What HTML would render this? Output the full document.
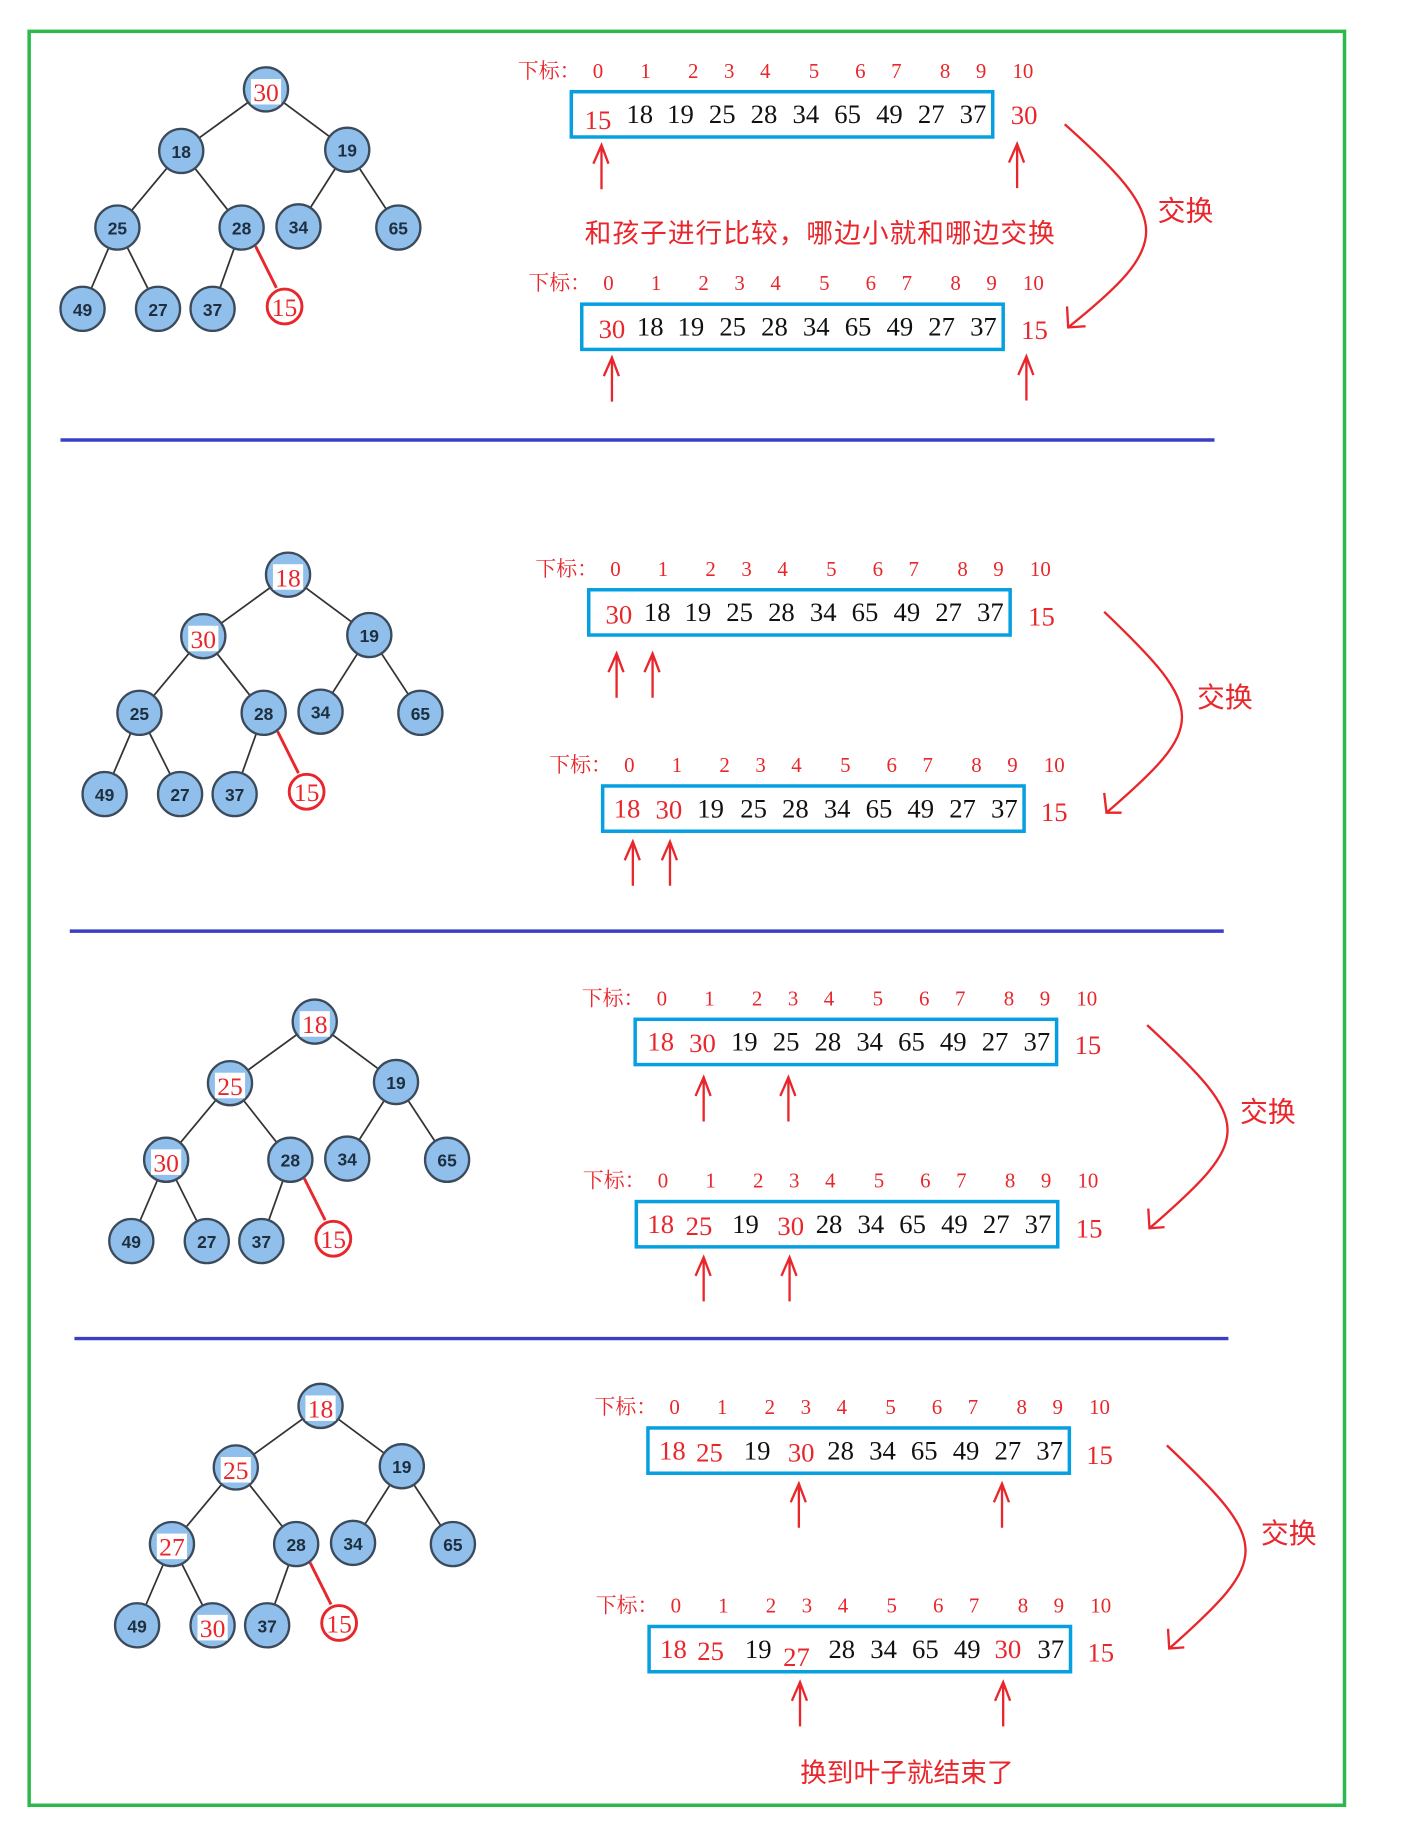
<!DOCTYPE html>
<html><head><meta charset="utf-8"><style>
html,body{margin:0;padding:0;background:#fff;}
svg{display:block;}
.idx{font-family:"Liberation Serif","Noto Serif CJK SC",serif;font-size:18px;fill:#e8262b;text-anchor:middle;}
.lab{font-family:"Liberation Serif","Noto Serif CJK SC",serif;font-size:18px;fill:#e8262b;}
.n{font-family:"Liberation Serif",serif;font-size:23px;fill:#111;text-anchor:middle;}
.r{font-family:"Liberation Serif",serif;font-size:23px;fill:#e8262b;text-anchor:middle;}
.cn{font-family:"Liberation Sans","Noto Sans CJK SC",sans-serif;font-size:23px;fill:#e8262b;}
.cx{font-family:"Liberation Sans","Noto Sans CJK SC",sans-serif;font-size:24px;fill:#e8262b;}
.box{fill:none;stroke:#069fe0;stroke-width:3;}
.nd{fill:#8fbfea;stroke:#3b4b5b;stroke-width:2;}
.nt{font-family:"Liberation Sans",sans-serif;font-weight:bold;font-size:15px;fill:#1e2f40;text-anchor:middle;}
.nr{font-family:"Liberation Serif",serif;font-size:22px;fill:#e8262b;text-anchor:middle;}
.e{stroke:#333;stroke-width:1.5;}
.ar{stroke:#e8262b;stroke-width:2;fill:none;}
</style></head><body>
<svg width="1405" height="1825" viewBox="0 0 1210 1572" xmlns="http://www.w3.org/2000/svg">
<rect x="25" y="27" width="1133" height="1528" fill="none" stroke="#2db84d" stroke-width="3"/>
<line x1="52" y1="379" x2="1046" y2="379" stroke="#3a3fc4" stroke-width="3"/>
<line x1="60" y1="802" x2="1054" y2="802" stroke="#3a3fc4" stroke-width="3"/>
<line x1="64" y1="1153" x2="1058" y2="1153" stroke="#3a3fc4" stroke-width="3"/>

<defs>
<g id="tree">
<line class="e" x1="229" y1="77" x2="156" y2="130"/><line class="e" x1="229" y1="77" x2="299" y2="129"/>
<line class="e" x1="156" y1="130" x2="101" y2="196"/><line class="e" x1="156" y1="130" x2="208" y2="196"/>
<line class="e" x1="299" y1="129" x2="257" y2="195"/><line class="e" x1="299" y1="129" x2="343" y2="196"/>
<line class="e" x1="101" y1="196" x2="71" y2="266"/><line class="e" x1="101" y1="196" x2="136" y2="266"/>
<line class="e" x1="208" y1="196" x2="183" y2="266"/>
<line x1="220" y1="212" x2="238" y2="248" stroke="#e8262b" stroke-width="2.5"/>
<circle class="nd" cx="229" cy="77" r="19"/><circle class="nd" cx="156" cy="130" r="19"/><circle class="nd" cx="299" cy="129" r="19"/>
<circle class="nd" cx="101" cy="196" r="19"/><circle class="nd" cx="208" cy="196" r="19"/><circle class="nd" cx="257" cy="195" r="19"/><circle class="nd" cx="343" cy="196" r="19"/>
<circle class="nd" cx="71" cy="266" r="19"/><circle class="nd" cx="136" cy="266" r="19"/><circle class="nd" cx="183" cy="266" r="19"/>
<circle cx="245" cy="264" r="15" fill="none" stroke="#e8262b" stroke-width="2.5"/>
<text class="nr" x="245" y="272">15</text>
<text class="nt" x="299" y="135">19</text><text class="nt" x="208" y="202">28</text><text class="nt" x="257" y="201">34</text><text class="nt" x="343" y="202">65</text>
<text class="nt" x="71" y="272">49</text><text class="nt" x="183" y="272">37</text>
</g>
<g id="arr">
<text class="lab" x="0" y="0">下标：</text>
<text class="idx" x="69" y="0">0</text><text class="idx" x="110" y="0">1</text><text class="idx" x="151" y="0">2</text><text class="idx" x="182" y="0">3</text><text class="idx" x="213" y="0">4</text><text class="idx" x="255" y="0">5</text><text class="idx" x="295" y="0">6</text><text class="idx" x="326" y="0">7</text><text class="idx" x="368" y="0">8</text><text class="idx" x="399" y="0">9</text><text class="idx" x="435" y="0">10</text>
<rect class="box" x="46" y="12" width="363" height="39"/>
<text class="n" x="212" y="39">28</text><text class="n" x="248" y="39">34</text><text class="n" x="284" y="39">65</text><text class="n" x="320" y="39">49</text><text class="n" x="392" y="39">37</text>
</g>
<g id="up"><path class="ar" d="M0,0 L0,-37 M-7,-22 L0,-38 L6,-22"/></g>
</defs>

<!-- Section 1 -->
<use href="#tree"/>
<rect x="216" y="68" width="26" height="22" fill="#fff"/><text class="nr" x="229" y="87">30</text>
<text class="nt" x="156" y="136">18</text><text class="nt" x="101" y="202">25</text><text class="nt" x="136" y="272">27</text>
<g transform="translate(446,67)"><use href="#arr"/>
<text class="r" x="69" y="44">15</text><text class="n" x="105" y="39">18</text><text class="n" x="140" y="39">19</text><text class="n" x="176" y="39">25</text><text class="n" x="356" y="39">27</text><text class="r" x="436" y="40">30</text></g>
<use href="#up" x="518" y="163"/><use href="#up" x="876" y="162"/>
<text class="cn" x="706" y="209" text-anchor="middle" textLength="405">和孩子进行比较，哪边小就和哪边交换</text>
<g transform="translate(455,250)"><use href="#arr"/>
<text class="r" x="72" y="41">30</text><text class="n" x="105" y="39">18</text><text class="n" x="140" y="39">19</text><text class="n" x="176" y="39">25</text><text class="n" x="356" y="39">27</text><text class="r" x="436" y="42">15</text></g>
<use href="#up" x="527" y="346"/><use href="#up" x="884" y="345"/>
<path class="ar" d="M917,107 C1010,190 1010,210 920,282 M919,264 L920,282 L935,281"/>
<text class="cx" x="997" y="190">交换</text>

<!-- Section 2 -->
<g transform="translate(19,418)"><use href="#tree"/>
<rect x="216" y="68" width="26" height="22" fill="#fff"/><text class="nr" x="229" y="87">18</text>
<rect x="143" y="121" width="26" height="22" fill="#fff"/><text class="nr" x="156" y="140">30</text>
<text class="nt" x="101" y="202">25</text><text class="nt" x="136" y="272">27</text></g>
<g transform="translate(461,496)"><use href="#arr"/>
<text class="r" x="72" y="41">30</text><text class="n" x="105" y="39">18</text><text class="n" x="140" y="39">19</text><text class="n" x="176" y="39">25</text><text class="n" x="356" y="39">27</text><text class="r" x="436" y="43">15</text></g>
<use href="#up" x="531" y="601"/><use href="#up" x="562" y="601"/>
<g transform="translate(473,665)"><use href="#arr"/>
<text class="r" x="67" y="39">18</text><text class="r" x="103" y="40">30</text><text class="n" x="139" y="39">19</text><text class="n" x="176" y="39">25</text><text class="n" x="356" y="39">27</text><text class="r" x="435" y="42">15</text></g>
<use href="#up" x="545" y="763"/><use href="#up" x="577" y="763"/>
<path class="ar" d="M951,527 C1040,612 1040,625 953,700 M951,683 L953,700 L966,700"/>
<text class="cx" x="1031" y="609">交换</text>

<!-- Section 3 -->
<g transform="translate(42,803)"><use href="#tree"/>
<rect x="216" y="68" width="26" height="22" fill="#fff"/><text class="nr" x="229" y="87">18</text>
<rect x="143" y="121" width="26" height="22" fill="#fff"/><text class="nr" x="156" y="140">25</text>
<rect x="88" y="187" width="26" height="22" fill="#fff"/><text class="nr" x="101" y="206">30</text>
<text class="nt" x="136" y="272">27</text></g>
<g transform="translate(501,866)"><use href="#arr"/>
<text class="r" x="68" y="39">18</text><text class="r" x="104" y="40">30</text><text class="n" x="140" y="39">19</text><text class="n" x="176" y="39">25</text><text class="n" x="356" y="39">27</text><text class="r" x="436" y="42">15</text></g>
<use href="#up" x="606" y="966"/><use href="#up" x="679" y="966"/>
<g transform="translate(502,1023)"><use href="#arr"/>
<text class="r" x="67" y="39">18</text><text class="r" x="100" y="41">25</text><text class="n" x="140" y="39">19</text><text class="r" x="179" y="41">30</text><text class="n" x="356" y="39">27</text><text class="r" x="436" y="43">15</text></g>
<use href="#up" x="606" y="1121"/><use href="#up" x="680" y="1121"/>
<path class="ar" d="M988,883 C1080,968 1080,980 990,1058 M989,1041 L990,1058 L1003,1057"/>
<text class="cx" x="1068" y="966">交换</text>

<!-- Section 4 -->
<g transform="translate(47,1134)"><use href="#tree"/>
<rect x="216" y="68" width="26" height="22" fill="#fff"/><text class="nr" x="229" y="87">18</text>
<rect x="143" y="121" width="26" height="22" fill="#fff"/><text class="nr" x="156" y="140">25</text>
<rect x="88" y="187" width="26" height="22" fill="#fff"/><text class="nr" x="101" y="206">27</text>
<rect x="123" y="257" width="26" height="22" fill="#fff"/><text class="nr" x="136" y="276">30</text></g>
<g transform="translate(512,1218)"><use href="#arr"/>
<text class="r" x="67" y="39">18</text><text class="r" x="99" y="41">25</text><text class="n" x="140" y="39">19</text><text class="r" x="178" y="41">30</text><text class="n" x="356" y="39">27</text><text class="r" x="435" y="43">15</text></g>
<use href="#up" x="688" y="1316"/><use href="#up" x="863" y="1316"/>
<g transform="translate(513,1389)"><use href="#arr"/>
<text class="r" x="67" y="39">18</text><text class="r" x="99" y="41">25</text><text class="n" x="140" y="39">19</text><text class="r" x="173" y="46">27</text><text class="r" x="355" y="39">30</text><text class="r" x="435" y="42">15</text></g>
<use href="#up" x="689" y="1487"/><use href="#up" x="864" y="1487"/>
<path class="ar" d="M1005,1245 C1095,1330 1095,1342 1007,1420 M1006,1403 L1007,1420 L1020,1419"/>
<text class="cx" x="1086" y="1329">交换</text>
<text class="cn" x="781" y="1535" text-anchor="middle">换到叶子就结束了</text>
</svg>
</body></html>
